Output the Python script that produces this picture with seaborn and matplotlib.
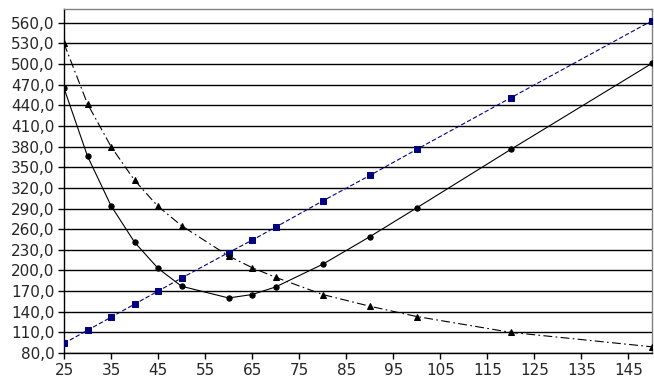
import matplotlib
matplotlib.use("Agg")
import matplotlib.pyplot as plt
import seaborn as sns
from matplotlib.ticker import FuncFormatter

# ─────────────────────────────────────────────
# Data
# ─────────────────────────────────────────────
x_vals = [25, 30, 35, 40, 45, 50, 60, 65, 70, 80, 90, 100, 120, 150]
total = [465, 366, 294, 241, 203, 177, 160, 165, 176, 209, 249, 291, 376, 501]
falling = [530, 442, 380, 331, 293, 265, 221, 204, 190, 165, 148, 133, 110, 89]
rising = [94, 113, 132, 151, 170, 189, 226, 244, 263, 301, 338, 376, 451, 563]

x_ticks = list(range(25, 150, 10))
y_ticks = list(range(80, 561, 30))

sns.set_style("white")
plt.rcParams["font.family"] = ["DejaVu Sans"]

fig = plt.figure(figsize=(6.54, 3.80), dpi=100)
ax = fig.add_axes([64 / 654, 27 / 380, 588 / 654, 344 / 380])

for yv in y_ticks:
    ax.axhline(yv, color="black", linewidth=1.0, zorder=1)

sns.lineplot(x=x_vals, y=rising, ax=ax, color="#000080", linewidth=0.8,
             linestyle=(0, (4, 2)), marker="s", markersize=4,
             markeredgecolor="#000080", zorder=3)
sns.lineplot(x=x_vals, y=falling, ax=ax, color="black", linewidth=0.8,
             linestyle=(0, (8, 3, 1.5, 3)), marker="^", markersize=4,
             markeredgecolor="black", zorder=3)
sns.lineplot(x=x_vals, y=total, ax=ax, color="black", linewidth=0.8,
             linestyle="-", marker="o", markersize=3.8,
             markeredgecolor="black", zorder=3)

ax.set_xlim(25, 150)
ax.set_ylim(80, 580)
ax.set_xticks(x_ticks)
ax.set_yticks(y_ticks)
ax.yaxis.set_major_formatter(FuncFormatter(lambda v, p: f"{v:.1f}".replace(".", ",")))
ax.tick_params(axis="both", direction="out", length=4, width=1, color="black",
               labelsize=11, pad=3, left=True, bottom=True)
ax.set_xlabel("")
ax.set_ylabel("")

for side in ["left", "bottom"]:
    ax.spines[side].set_color("black")
    ax.spines[side].set_linewidth(1)
for side in ["top", "right"]:
    ax.spines[side].set_visible(True)
    ax.spines[side].set_color("#808080")
    ax.spines[side].set_linewidth(1)

plt.savefig("out.png", dpi=100)
plt.close()
